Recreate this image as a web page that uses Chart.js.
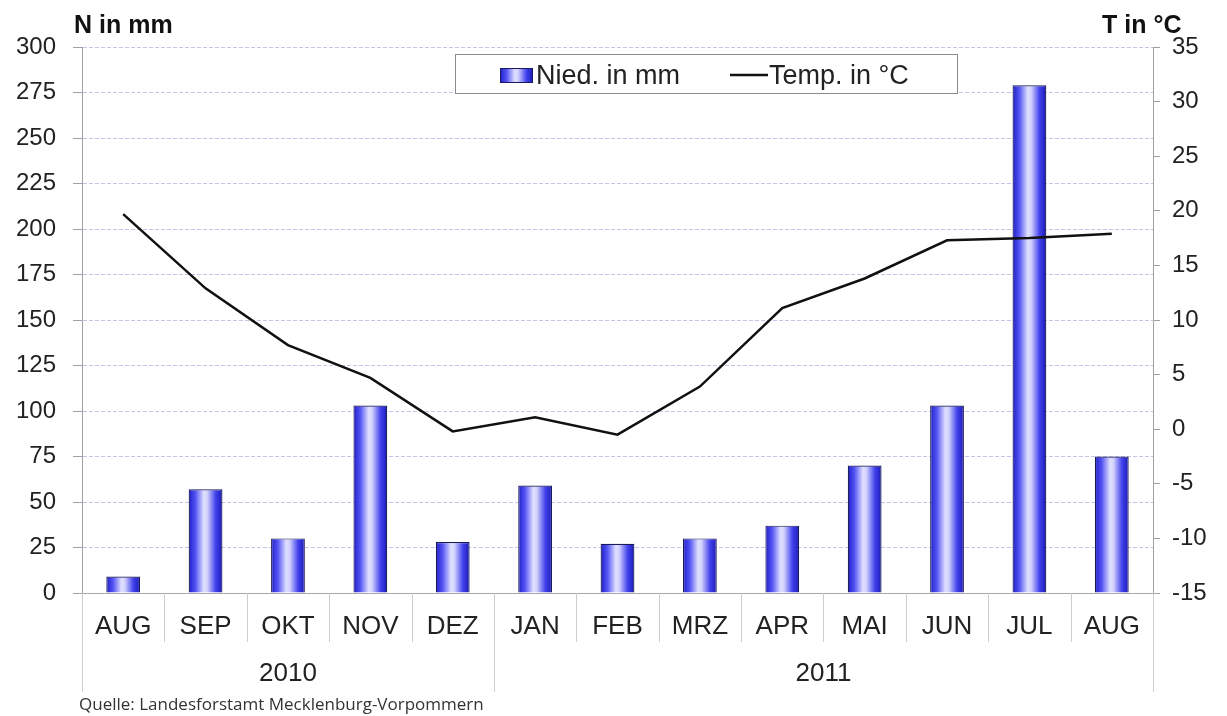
<!DOCTYPE html>
<html>
<head>
<meta charset="utf-8">
<script src="https://cdn.jsdelivr.net/npm/chart.js@4.4.0/dist/chart.umd.min.js"></script>
<style>
html, body { margin: 0; padding: 0; background: #fff; }
#wrap { position: relative; width: 1227px; height: 716px; }
</style>
</head>
<body>
<div id="wrap"><canvas id="klima" width="1227" height="716"></canvas></div>
<script>
// Monate Aug 2010 - Aug 2011
const months = ['AUG', 'SEP', 'OKT', 'NOV', 'DEZ', 'JAN', 'FEB', 'MRZ', 'APR', 'MAI', 'JUN', 'JUL', 'AUG'];
const years = ['2010', '2011'];
const yearSpans = [5, 8];
const niederschlag = [9, 57, 30, 103, 28, 59, 27, 30, 37, 70, 103, 279, 75];
const temperatur = [19.7, 12.9, 7.7, 4.7, -0.2, 1.1, -0.5, 3.9, 11.1, 13.8, 17.3, 17.5, 17.9];
const nTicks = { min: 0, max: 300, step: 25 };
const tTicks = { min: -15, max: 35, step: 5 };

const FONT = '"Liberation Sans", Arial, sans-serif';
const barPct = 0.41;

function barGradient(ctx, x0, x1) {
    let g = ctx.createLinearGradient(x0, 0, x1, 0);
    g.addColorStop(0, '#1e1ec8');
    g.addColorStop(0.2, '#5454f4');
    g.addColorStop(0.45, '#e0e0ff');
    g.addColorStop(0.55, '#d2d2fc');
    g.addColorStop(0.8, '#4242ee');
    g.addColorStop(1, '#1a1ab4');
    return g;
}

function barColor(context) {
    const chart = context.chart;
    const xs = chart.scales.x;
    if (context.type !== 'data' || !xs || !chart.chartArea) return '#5050f0';
    const cx = xs.getPixelForValue(context.dataIndex);
    const w = xs.width / months.length * barPct;
    return barGradient(chart.ctx, cx - w / 2, cx + w / 2);
}

const extras = {
    id: 'extras',
    afterDraw(chart) {
        const ctx = chart.ctx;
        const xs = chart.scales.x;
        const area = chart.chartArea;
        const step = xs.width / months.length;
        ctx.save();

        // Trennlinien unter der Achse
        let edges = [0];
        let acc = 0;
        yearSpans.forEach(s => { acc += s; edges.push(acc); });
        ctx.strokeStyle = '#cdcdcd';
        ctx.lineWidth = 1;
        for (let i = 0; i <= months.length; i++) {
            const x = Math.round(xs.left + i * step) + 0.5;
            const len = edges.includes(i) ? 99 : 49;
            ctx.beginPath();
            ctx.moveTo(x, area.bottom);
            ctx.lineTo(x, area.bottom + len);
            ctx.stroke();
        }

        // Jahre
        ctx.fillStyle = '#222';
        ctx.font = '26px ' + FONT;
        ctx.textAlign = 'center';
        ctx.textBaseline = 'middle';
        years.forEach((y, k) => {
            const x0 = xs.left + edges[k] * step;
            const x1 = xs.left + edges[k + 1] * step;
            ctx.fillText(y, (x0 + x1) / 2, area.bottom + 81);
        });

        // Achsentitel
        ctx.fillStyle = '#111';
        ctx.font = 'bold 25px ' + FONT;
        ctx.textBaseline = 'alphabetic';
        ctx.textAlign = 'left';
        ctx.fillText('N in mm', 74, 33);
        ctx.fillText('T in °C', 1102, 33);

        // Legende
        ctx.fillStyle = '#fff';
        ctx.fillRect(455, 54, 503, 40);
        ctx.strokeStyle = '#8a8a8a';
        ctx.strokeRect(455.5, 54.5, 502, 39);
        ctx.fillStyle = barGradient(ctx, 500, 533);
        ctx.fillRect(500, 68, 33, 15);
        ctx.strokeStyle = '#1a1a60';
        ctx.strokeRect(500.5, 68.5, 32, 14);
        ctx.strokeStyle = '#111';
        ctx.lineWidth = 2.5;
        ctx.beginPath();
        ctx.moveTo(730, 75);
        ctx.lineTo(768, 75);
        ctx.stroke();
        ctx.fillStyle = '#222';
        ctx.font = '27px ' + FONT;
        ctx.fillText('Nied. in mm', 536, 84);
        ctx.fillText('Temp. in °C', 769, 84);

        // Quelle
        ctx.font = '17px "Open Sans", "Noto Sans", sans-serif';
        ctx.fillStyle = '#333';
        ctx.fillText('Quelle: Landesforstamt Mecklenburg-Vorpommern', 79, 710);

        ctx.restore();
    }
};

const ctx = document.getElementById('klima').getContext('2d');
const chart = new Chart(ctx, {
    data: {
        labels: months,
        datasets: [{
            type: 'line',
            label: 'Temp. in °C',
            data: temperatur,
            yAxisID: 'yT',
            borderColor: '#111',
            borderWidth: 2.5,
            pointRadius: 0,
            tension: 0,
            order: 0
        }, {
            type: 'bar',
            label: 'Nied. in mm',
            data: niederschlag,
            yAxisID: 'yN',
            backgroundColor: barColor,
            borderColor: '#1a1a5a',
            borderWidth: 1.2,
            barPercentage: barPct,
            categoryPercentage: 1,
            order: 1
        }]
    },
    options: {
        responsive: false,
        animation: false,
        devicePixelRatio: 1,
        layout: { padding: { top: 47, left: 0, right: 0, bottom: 0 } },
        plugins: {
            legend: { display: false },
            tooltip: { enabled: false }
        },
        scales: {
            x: {
                offset: true,
                grid: { display: false, drawTicks: false },
                border: { color: '#a8a8a8' },
                ticks: { font: { size: 26, family: FONT }, color: '#222', padding: 18, maxRotation: 0, autoSkip: false },
                afterFit(scale) { scale.height = 123; }
            },
            yN: {
                position: 'left',
                min: nTicks.min,
                max: nTicks.max,
                ticks: { stepSize: nTicks.step, font: { size: 24, family: FONT }, color: '#222', padding: 17 },
                grid: { color: '#c4c4e8', tickColor: '#a0a0a0', tickLength: 9 },
                border: { color: '#a0a0a0', dash: [4, 2] },
                afterFit(scale) { scale.width = 82; }
            },
            yT: {
                position: 'right',
                min: tTicks.min,
                max: tTicks.max,
                ticks: { stepSize: tTicks.step, font: { size: 24, family: FONT }, color: '#222', padding: 12 },
                grid: { drawOnChartArea: false, tickColor: '#a0a0a0', tickLength: 7 },
                border: { color: '#a0a0a0' },
                afterFit(scale) { scale.width = 74; }
            }
        }
    },
    plugins: [extras]
});
</script>
</body>
</html>
